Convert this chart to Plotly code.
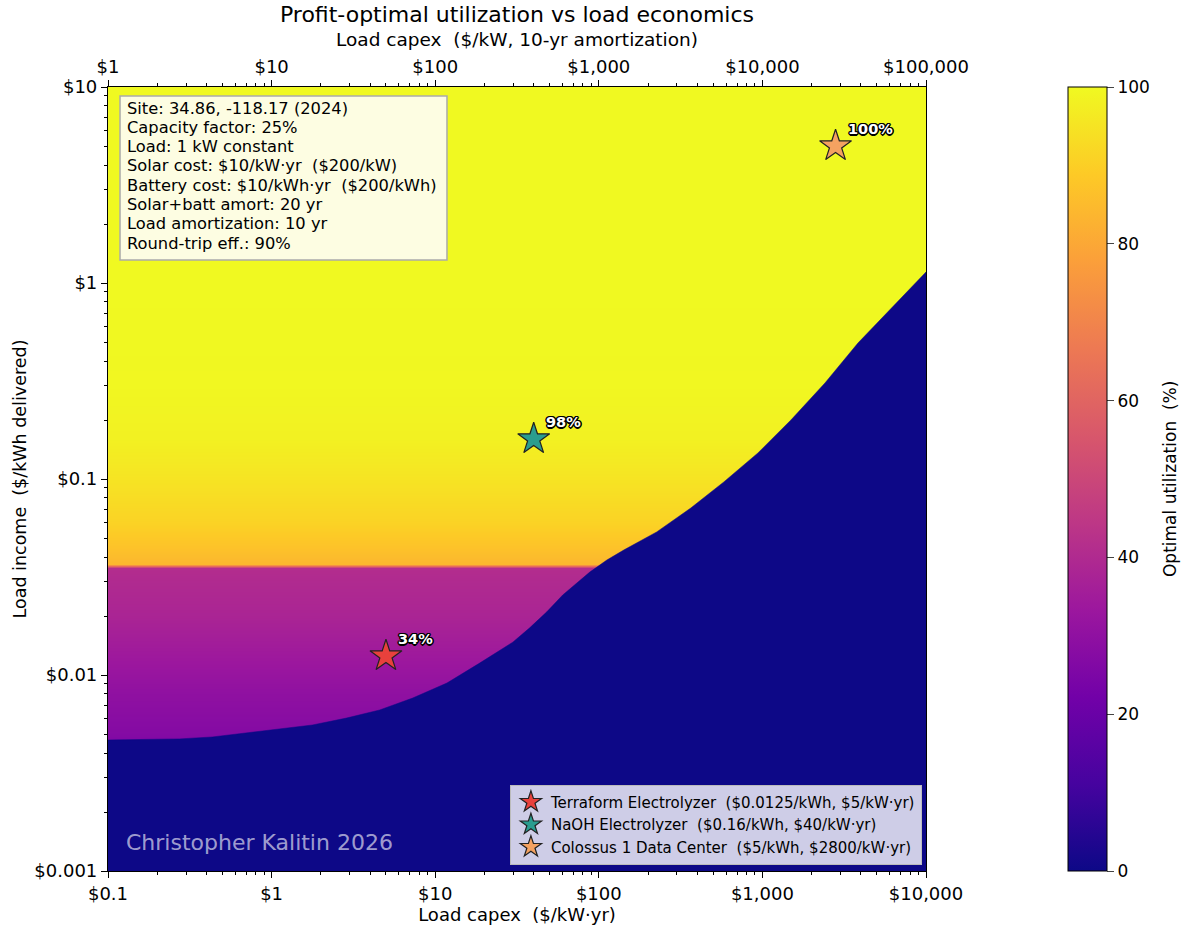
import math
import plotly.graph_objects as go

# utilization profile vs load income (read down the left edge of the map)
util_y = [0.0047, 0.005, 0.008, 0.0125, 0.02, 0.03, 0.035, 0.0368, 0.045, 0.06, 0.1, 0.16, 0.3, 1, 10]
util_pct = [26, 27, 30, 34, 38, 40, 41, 84, 87, 91, 95, 98, 99.5, 100, 100]
map_x = [0.1, 10000]

# edge of the zero-utilization region (load capex -> load income)
edge_x = [0.1, 0.274, 0.436, 0.703, 1.12, 1.78, 2.87, 4.58, 7.29, 11.8, 18.7, 29.8, 37.8,
          48.1, 60.2, 76.5, 88.1, 112, 142, 226, 365, 581, 939, 1494, 2412, 3838, 6194, 10000]
edge_y = [0.00466, 0.00472, 0.00483, 0.00506, 0.0053, 0.00556, 0.00603, 0.00663, 0.00763,
          0.0091, 0.0115, 0.0147, 0.0174, 0.021, 0.0256, 0.0305, 0.0335, 0.0386, 0.0434,
          0.0537, 0.0711, 0.0966, 0.1358, 0.2, 0.309, 0.494, 0.754, 1.138]

# example loads
load_names = ["Terraform Electrolyzer  ($0.0125/kWh, $5/kW·yr)",
              "NaOH Electrolyzer  ($0.16/kWh, $40/kW·yr)",
              "Colossus 1 Data Center  ($5/kWh, $2800/kW·yr)"]
load_capex = [5, 40, 2800]
load_income = [0.0125, 0.16, 5]
load_util = ["34%", "98%", "100%"]
load_colors = ["#e8413c", "#2a9d8f", "#f4a261"]

x_min, x_max = 0.1, 10000
y_min, y_max = 0.001, 10

info_lines = ["Site: 34.86, -118.17 (2024)",
              "Capacity factor: 25%",
              "Load: 1 kW constant",
              "Solar cost: $10/kW·yr  ($200/kW)",
              "Battery cost: $10/kWh·yr  ($200/kWh)",
              "Solar+batt amort: 20 yr",
              "Load amortization: 10 yr",
              "Round-trip eff.: 90%"]

font = "DejaVu Sans"
navy = "#0d0887"
plot_h = 784  # px height of the plotting area
outline = ("1.5px 0 0 #000, -1.5px 0 0 #000, 0 1.5px 0 #000, 0 -1.5px 0 #000, "
           "1px 1px 0 #000, -1px -1px 0 #000, 1px -1px 0 #000, -1px 1px 0 #000")

fig = go.Figure()

fig.add_trace(go.Heatmap(
    x=map_x, y=util_y, z=[[v, v] for v in util_pct],
    colorscale="Plasma", zmin=0, zmax=100, zsmooth="best",
    hoverinfo="skip", showlegend=False,
    colorbar=dict(
        x=1.1736, xanchor="left", xpad=0, y=0.5, yanchor="middle", ypad=0,
        len=1, lenmode="fraction",
        thickness=39, outlinecolor="black", outlinewidth=1,
        tickvals=[0, 20, 40, 60, 80, 100], ticks="outside", ticklen=7,
        tickfont=dict(family=font, size=17, color="black"),
    ),
))

fig.add_trace(go.Scatter(
    x=edge_x + [x_max, x_min], y=edge_y + [y_min, y_min],
    fill="toself", fillcolor=navy, mode="lines", line=dict(width=0.5, color=navy),
    hoverinfo="skip", showlegend=False,
))

for name, cx, iy, col in zip(load_names, load_capex, load_income, load_colors):
    fig.add_trace(go.Scatter(
        x=[cx], y=[iy], mode="markers", name=name,
        marker=dict(symbol="star", size=24, color=col, line=dict(color="#222", width=1.2)),
    ))

# percent labels: white bold text with a black outline
for cx, iy, lab in zip(load_capex, load_income, load_util):
    fig.add_annotation(
        x=math.log10(cx), y=math.log10(iy), xref="x", yref="y", text="<b>" + lab + "</b>",
        showarrow=False, xanchor="left", yanchor="middle", xshift=10, yshift=17,
        font=dict(family=font, size=14.5, color="white", shadow=outline),
    )

# dummy trace so the top (x10 $/kW) axis is drawn
fig.add_trace(go.Scatter(x=[1, 100000], y=[1, 1], xaxis="x2", mode="markers",
                         marker=dict(opacity=0), hoverinfo="skip", showlegend=False))

# info box
fig.add_shape(type="rect", xref="paper", yref="paper", x0=0.0147, x1=0.4144, y0=0.7793, y1=0.9885,
              fillcolor="#fdfde2", line=dict(color="#aaaaaa", width=1.5), layer="above")
for i, line in enumerate(info_lines):
    fig.add_annotation(
        x=0.0208, y=1 - (21 + i * 19.3) / plot_h, xref="paper", yref="paper",
        xanchor="left", yanchor="middle", text=line, showarrow=False,
        font=dict(family=font, size=16.3, color="black"),
    )

fig.add_annotation(
    x=0.0196, y=0.036, xref="paper", yref="paper", xanchor="left", yanchor="middle",
    text="Christopher Kalitin 2026", showarrow=False,
    font=dict(family=font, size=22, color="rgba(255,255,255,0.62)"),
)

# colorbar title
fig.add_annotation(
    x=1.2983, y=0.5, xref="paper", yref="paper", xanchor="center", yanchor="middle",
    text="Optimal utilization  (%)", textangle=-90, showarrow=False,
    font=dict(family=font, size=17, color="black"),
)

axis_common = dict(
    type="log", showgrid=False, zeroline=False, showline=True, linecolor="black", linewidth=1.2,
    ticks="outside", ticklen=6, tickwidth=1.2, tickcolor="black", dtick=1,
    tickprefix="$", tickformat=",",
    tickfont=dict(family=font, size=18, color="black"),
    minor=dict(ticks="outside", ticklen=3, tickwidth=1, tickcolor="black", dtick="D1", showgrid=False),
)

fig.update_layout(
    width=1200, height=933,
    margin=dict(l=108, r=274, t=87, b=62),
    paper_bgcolor="white", plot_bgcolor=navy,
    title=dict(text="Profit-optimal utilization vs load economics", x=0.5, xref="paper", xanchor="center",
               y=0.993, yanchor="top", font=dict(family=font, size=22, color="black")),
    xaxis=dict(axis_common, range=[-1, 4],
               title=dict(text="Load capex  ($/kW·yr)", font=dict(family=font, size=18, color="black"), standoff=3)),
    xaxis2=dict(axis_common, range=[0, 5], overlaying="x", side="top", anchor="y",
                title=dict(text="Load capex  ($/kW, 10-yr amortization)", font=dict(family=font, size=18.5, color="black"), standoff=4)),
    yaxis=dict(axis_common, range=[-3, 1], mirror=True,
               title=dict(text="Load income  ($/kWh delivered)", font=dict(family=font, size=17.5, color="black"), standoff=3)),
    legend=dict(x=0.995, y=0.008, xanchor="right", yanchor="bottom",
                bgcolor="rgba(255,255,255,0.8)", bordercolor="#bbbbbb", borderwidth=1,
                font=dict(family=font, size=15, color="black"), itemsizing="trace"),
)

fig.write_html("out.html", config={"displayModeBar": False},
               post_script="document.body.style.margin='0';")
